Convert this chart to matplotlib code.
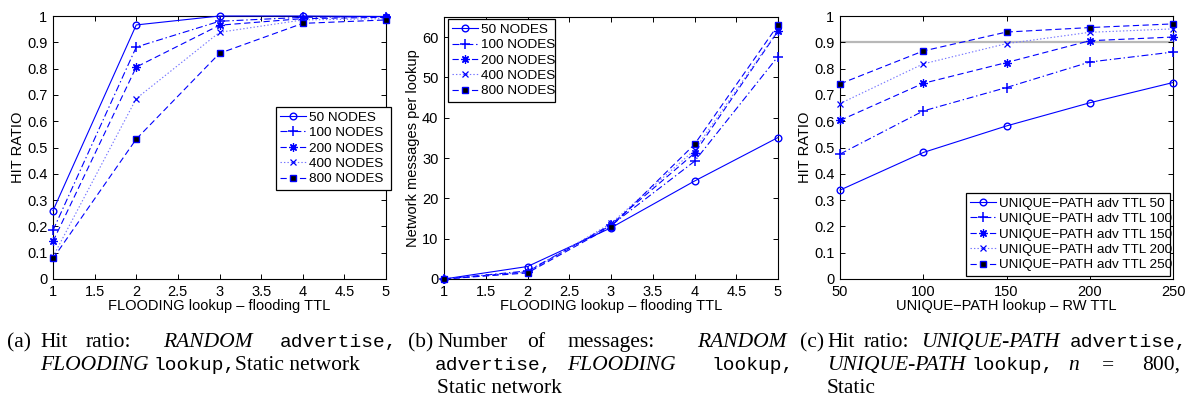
import matplotlib.pyplot as plt

plt.rcParams['font.family'] = ['Liberation Sans', 'DejaVu Sans']
plt.rcParams['lines.scale_dashes'] = False

W, H = 1192, 399

# ------------------------------------------------------------
# DATA
# ------------------------------------------------------------

ttl = [1, 2, 3, 4, 5]
node_labels = ["50 NODES", "100 NODES", "200 NODES", "400 NODES", "800 NODES"]

# (a) hit ratio, flooding lookup
hit_50 = [0.260, 0.966, 1.000, 1.000, 0.998]
hit_100 = [0.185, 0.882, 0.980, 0.995, 0.998]
hit_200 = [0.143, 0.806, 0.965, 0.990, 0.995]
hit_400 = [0.085, 0.686, 0.938, 0.985, 0.990]
hit_800 = [0.078, 0.532, 0.858, 0.972, 0.985]

# (b) messages per lookup, flooding lookup
msg_50 = [0.0, 3.1, 12.7, 24.3, 35.1]
msg_100 = [0.0, 2.0, 13.3, 29.2, 55.2]
msg_200 = [0.0, 1.8, 13.5, 31.2, 61.5]
msg_400 = [0.0, 1.7, 13.8, 32.0, 61.7]
msg_800 = [0.0, 1.5, 13.0, 33.4, 63.0]

# (c) hit ratio, unique-path lookup
rw_ttl = [50, 100, 150, 200, 250]
adv_labels = ["UNIQUE\u2212PATH adv TTL 50", "UNIQUE\u2212PATH adv TTL 100",
              "UNIQUE\u2212PATH adv TTL 150", "UNIQUE\u2212PATH adv TTL 200",
              "UNIQUE\u2212PATH adv TTL 250"]
up_50 = [0.338, 0.481, 0.582, 0.670, 0.747]
up_100 = [0.475, 0.639, 0.728, 0.825, 0.863]
up_150 = [0.603, 0.744, 0.823, 0.906, 0.920]
up_200 = [0.667, 0.818, 0.895, 0.938, 0.951]
up_250 = [0.742, 0.867, 0.939, 0.956, 0.970]
target_hit = 0.9

# ------------------------------------------------------------
# STYLES (matlab-ish)
# ------------------------------------------------------------

BLUE = (0, 0, 1)
STYLES = [
    dict(ls='-', marker='o', mfc='none', mec=BLUE, ms=4.8, color=BLUE),
    dict(ls=(0, (5, 2, 1, 2)), marker='+', mec=BLUE, ms=7, mew=1.1, color=BLUE),
    dict(ls=(0, (4.5, 2.5)), marker=(8, 2, 0), mec=BLUE, ms=6, mew=0.9, color=BLUE),
    dict(ls=(0, (1, 1.5)), marker='x', mec=BLUE, ms=4.2, mew=0.9, color=(0.45, 0.45, 1)),
    dict(ls=(0, (4.5, 2.5)), marker='s', mfc='black', mec=BLUE, ms=4.8, color=BLUE),
]


def px_axes(fig, left, top, right, bottom):
    return fig.add_axes([left / W, 1 - bottom / H, (right - left) / W, (bottom - top) / H])


def style_axes(ax, xlabel, ylabel, ylab_x):
    for s in ax.spines.values():
        s.set_linewidth(0.8)
    ax.tick_params(direction='in', top=True, right=True, length=3.5, width=0.7,
                   labelsize=10.5, pad=4)
    ax.tick_params(axis='x', pad=4.5)
    ax.set_xlabel(xlabel, fontsize=10.5, va='center')
    ax.xaxis.set_label_coords(0.5, -0.104)
    ax.set_ylabel(ylabel, fontsize=10.5, va='center')
    ax.yaxis.set_label_coords(ylab_x, 0.5)


def draw_series(ax, x, series, labels):
    for ys, lab, st in zip(series, labels, STYLES):
        ax.plot(x, ys, label=lab, lw=0.8, clip_on=False, zorder=3, **st)


def add_legend(ax, x0, y0, w, h):
    leg = ax.legend(loc='upper left', bbox_to_anchor=(x0, y0, w, h), mode='expand',
                    fontsize=9.7, handlelength=1.9, handletextpad=0.25,
                    labelspacing=0.22, borderpad=0.32, borderaxespad=0,
                    fancybox=False, framealpha=1, edgecolor='black')
    leg.get_frame().set_linewidth(0.9)
    leg.set_zorder(5)
    return leg


fig = plt.figure(figsize=(W / 100, H / 100), dpi=100)

# (a)
ax1 = px_axes(fig, 53, 16, 386, 279)
draw_series(ax1, ttl, [hit_50, hit_100, hit_200, hit_400, hit_800], node_labels)
ax1.set_xlim(1, 5)
ax1.set_ylim(0, 1)
ax1.set_xticks([1, 1.5, 2, 2.5, 3, 3.5, 4, 4.5, 5])
ax1.set_xticklabels(['1', '1.5', '2', '2.5', '3', '3.5', '4', '4.5', '5'])
ax1.set_yticks([i / 10 for i in range(11)])
ax1.set_yticklabels(['0'] + [f'0.{i}' for i in range(1, 10)] + ['1'])
style_axes(ax1, "FLOODING lookup \u2013 flooding TTL", "HIT RATIO", -0.105)
add_legend(ax1, 0.670, 0.342, 0.345, 0.312)

# (b)
ax2 = px_axes(fig, 444, 17, 778, 279)
draw_series(ax2, ttl, [msg_50, msg_100, msg_200, msg_400, msg_800], node_labels)
ax2.set_xlim(1, 5)
ax2.set_ylim(0, 65)
ax2.set_xticks([1, 1.5, 2, 2.5, 3, 3.5, 4, 4.5, 5])
ax2.set_xticklabels(['1', '1.5', '2', '2.5', '3', '3.5', '4', '4.5', '5'])
ax2.set_yticks([0, 10, 20, 30, 40, 50, 60])
style_axes(ax2, "FLOODING lookup \u2013 flooding TTL", "Network messages per lookup", -0.093)
add_legend(ax2, 0.012, 0.672, 0.320, 0.320)

# (c)
ax3 = px_axes(fig, 840, 16, 1173, 279)
ax3.axhline(target_hit, color=(0.72, 0.72, 0.72), lw=1.6, zorder=1)
draw_series(ax3, rw_ttl, [up_50, up_100, up_150, up_200, up_250], adv_labels)
ax3.set_xlim(50, 250)
ax3.set_ylim(0, 1)
ax3.set_xticks(rw_ttl)
ax3.set_yticks([i / 10 for i in range(11)])
ax3.set_yticklabels(['0'] + [f'0.{i}' for i in range(1, 10)] + ['1'])
style_axes(ax3, "UNIQUE\u2212PATH lookup \u2013 RW TTL", "HIT RATIO", -0.105)
add_legend(ax3, 0.378, 0.011, 0.613, 0.316)

# ------------------------------------------------------------
# CAPTIONS (justified by hand, word by word)
# ------------------------------------------------------------

CAP_SIZE = 15.5
FONTS = {
    'rm': dict(family='Liberation Serif'),
    'it': dict(family='Liberation Serif', style='italic'),
    'tt': dict(family='Liberation Mono', size=14),
}
LINE_Y = [347, 370, 393]

captions = [
    # (a)
    (7, 0, "(a)", 'rm'), (40, 0, "Hit", 'rm'), (86, 0, "ratio:", 'rm'),
    (163, 0, "RANDOM", 'it'), (280, 0, "advertise,", 'tt'),
    (40, 1, "FLOODING", 'it'), (153, 1, "lookup,", 'tt'), (235, 1, "Static network", 'rm'),
    # (b)
    (408, 0, "(b)", 'rm'), (437, 0, "Number", 'rm'), (527, 0, "of", 'rm'),
    (568, 0, "messages:", 'rm'), (697, 0, "RANDOM", 'it'),
    (435, 1, "advertise,", 'tt'), (567, 1, "FLOODING", 'it'), (712, 1, "lookup,", 'tt'),
    (437, 2, "Static network", 'rm'),
    # (c)
    (800, 0, "(c)", 'rm'), (827, 0, "Hit", 'rm'), (864, 0, "ratio:", 'rm'),
    (921, 0, "UNIQUE-PATH", 'it'), (1070, 0, "advertise,", 'tt'),
    (827, 1, "UNIQUE-PATH", 'it'), (972, 1, "lookup,", 'tt'), (1068, 1, "n", 'it'),
    (1102, 1, "=", 'rm'), (1142, 1, "800,", 'rm'),
    (827, 2, "Static", 'rm'),
]

for x, line, text, kind in captions:
    kw = dict(size=CAP_SIZE)
    kw.update(FONTS[kind])
    fig.text(x / W, 1 - LINE_Y[line] / H, text, ha='left', va='baseline', **kw)

fig.savefig("out.png", dpi=100)
